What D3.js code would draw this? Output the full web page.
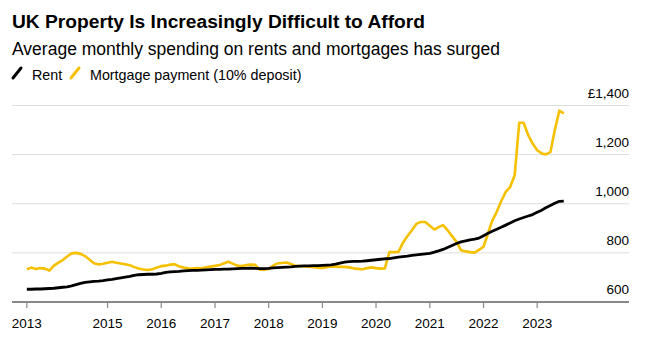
<!DOCTYPE html>
<html>
<head>
<meta charset="UTF-8">
<script src="https://d3js.org/d3.v7.min.js"></script>
<style>
  body { margin: 0; background: #fff; font-family: "Liberation Sans", Arial, sans-serif; }
  svg text { fill: #000; }
</style>
</head>
<body>
<div id="chart"></div>
<script>
// monthly data, Jul 2013 .. Jul 2023
const startMonth = new Date(2013, 6, 1);
const rent = [
  652, 652, 653, 653, 654, 655, 656, 658, 660, 662, 666, 671, 676, 680, 682, 684,
  685, 687, 690, 692, 695, 698, 701, 704, 708, 711, 712, 713, 713, 714, 717, 721,
  723, 724, 725, 727, 728, 729, 729, 730, 731, 732, 733, 733, 734, 734, 735, 736,
  737, 737, 738, 737, 736, 736, 737, 739, 740, 741, 742, 743, 745, 746, 747, 747,
  748, 748, 749, 750, 751, 754, 758, 762, 764, 765, 765, 766, 768, 770, 772, 774,
  776, 777, 780, 783, 785, 787, 790, 792, 794, 796, 798, 803, 808, 814, 822, 830,
  838, 845, 849, 853, 856, 860, 870, 880, 888, 896, 904, 913, 922, 931, 938, 944,
  950, 956, 965, 974, 984, 993, 1002, 1010, 1011
];
const mortgage = [
  733, 740, 734, 738, 736, 728, 748, 760, 770, 785, 798, 800, 796, 787, 772, 758,
  753, 756, 760, 764, 760, 757, 754, 750, 742, 736, 732, 730, 733, 740, 746, 748,
  752, 754, 745, 740, 737, 736, 738, 737, 741, 744, 747, 750, 757, 764, 756, 748,
  746, 750, 752, 751, 732, 731, 734, 748, 757, 759, 761, 755, 747, 746, 745, 744,
  742, 740, 739, 742, 745, 744, 743, 743, 741, 737, 735, 733, 738, 741, 738, 736,
  737, 803, 803, 804, 840, 868, 892, 918, 926, 926, 910, 895, 905, 913, 893, 868,
  845, 811, 806, 803, 801, 812, 825, 880, 930, 967, 1010, 1048, 1068, 1116, 1330, 1330,
  1279, 1245, 1218, 1205, 1201, 1210, 1300, 1379, 1368
];
const yTicks = [600, 800, 1000, 1200, 1400];
const xTickYears = [2015, 2016, 2017, 2018, 2019, 2020, 2021, 2022, 2023];

const width = 648, height = 340;
const svg = d3.select("#chart").append("svg")
  .attr("width", width).attr("height", height);

const months = rent.map((d, i) => d3.timeMonth.offset(startMonth, i));

const x = d3.scaleTime()
  .domain([new Date(2013, 2, 22), new Date(2024, 10, 10)])
  .range([12, 637]);
const y = d3.scaleLinear().domain([600, 1400]).range([302, 105.5]);

// titles
svg.append("text").attr("x", 12).attr("y", 28)
  .style("font-size", "19.2px").style("font-weight", "bold")
  .text("UK Property Is Increasingly Difficult to Afford");
svg.append("text").attr("x", 12).attr("y", 55)
  .style("font-size", "17.5px")
  .text("Average monthly spending on rents and mortgages has surged");

// legend
const legend = [
  { label: "Rent", color: "#000", x: 13 },
  { label: "Mortgage payment (10% deposit)", color: "#f5c000", x: 71 }
];
legend.forEach(l => {
  svg.append("line")
    .attr("x1", l.x).attr("y1", 78).attr("x2", l.x + 8).attr("y2", 68)
    .attr("stroke", l.color).attr("stroke-width", 3).attr("stroke-linecap", "round");
  svg.append("text").attr("x", l.x + 19).attr("y", 79.5)
    .style("font-size", "14.3px").text(l.label);
});

// grid
const grid = svg.append("g");
grid.selectAll("line").data(yTicks.filter(d => d > 600)).join("line")
  .attr("x1", 12).attr("x2", 629)
  .attr("y1", d => y(d)).attr("y2", d => y(d))
  .attr("stroke", "#dcdcdc").attr("stroke-width", 1);
grid.selectAll("text").data(yTicks).join("text")
  .attr("x", 629).attr("y", d => y(d) - 8)
  .attr("text-anchor", "end")
  .style("font-size", "13.5px")
  .text(d => d === 1400 ? "£1,400" : d3.format(",")(d));

// x axis
const xAxis = svg.append("g").attr("transform", `translate(0,${y(600)})`);
xAxis.append("line").attr("x1", 12).attr("x2", 629)
  .attr("stroke", "#888").attr("stroke-width", 2);
const tickDates = [startMonth].concat(xTickYears.map(yr => new Date(yr, 0, 1)));
const tickLabels = [2013].concat(xTickYears);
const ticks = xAxis.selectAll("g.tick").data(tickDates).join("g")
  .attr("class", "tick")
  .attr("transform", d => `translate(${x(d)},0)`);
ticks.append("line").attr("y1", 0).attr("y2", 6)
  .attr("stroke", "#888").attr("stroke-width", 1.2);
ticks.append("text").attr("y", 25.5).attr("text-anchor", "middle")
  .style("font-size", "13.5px")
  .text((d, i) => tickLabels[i]);

// lines
const line = d3.line().x((d, i) => x(months[i])).y(d => y(d));
svg.append("path").datum(mortgage)
  .attr("fill", "none").attr("stroke", "#f5c000").attr("stroke-width", 2.6)
  .attr("stroke-linejoin", "round").attr("d", line);
svg.append("path").datum(rent)
  .attr("fill", "none").attr("stroke", "#000").attr("stroke-width", 2.8)
  .attr("stroke-linejoin", "round").attr("d", line);
</script>
</body>
</html>
